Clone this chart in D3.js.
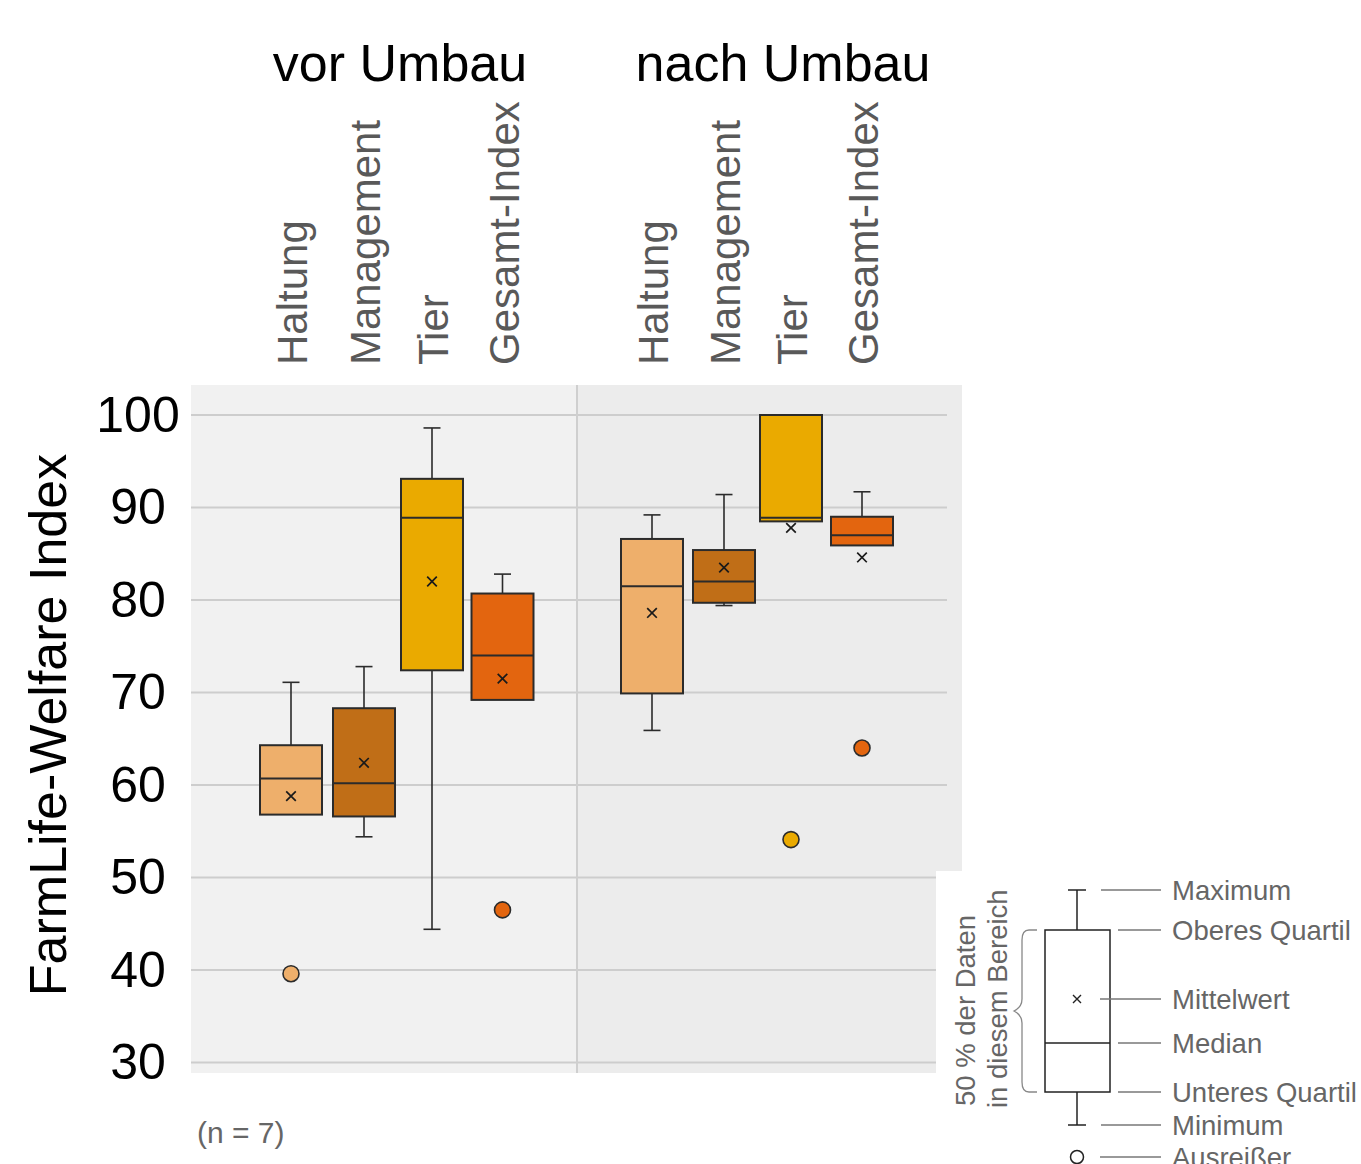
<!DOCTYPE html>
<html><head><meta charset="utf-8">
<script src="https://cdn.jsdelivr.net/npm/d3@7"></script>
<style>
html,body{margin:0;padding:0;background:#fff;}
svg{display:block;font-family:"Liberation Sans",Arial,sans-serif;}
</style></head>
<body><svg id="chart" width="1361" height="1164"></svg>
<script>
// ---------- data ----------
const groups = ["vor Umbau", "nach Umbau"];
const categories = ["Haltung", "Management", "Tier", "Gesamt-Index"];
const colors = ["#EEAF6B", "#C06E17", "#EAAA00", "#E3650F"];
const yTicks = [30, 40, 50, 60, 70, 80, 90, 100];
// per group, per category: [min, q1, median, q3, max, mean]
const vorStats = [
  [56.8, 56.8, 60.7, 64.3, 71.1, 58.8],
  [54.4, 56.6, 60.2, 68.3, 72.8, 62.4],
  [44.4, 72.4, 88.9, 93.1, 98.6, 82.0],
  [69.2, 69.2, 74.0, 80.7, 82.8, 71.5]
];
const nachStats = [
  [65.9, 69.9, 81.5, 86.6, 89.2, 78.6],
  [79.4, 79.7, 82.0, 85.4, 91.4, 83.5],
  [88.5, 88.5, 88.9, 100.0, 100.0, 87.8],
  [85.9, 85.9, 87.0, 89.0, 91.7, 84.6]
];
// outliers: [groupIndex, categoryIndex, value]
const outliers = [
  [0, 0, 39.6],
  [0, 3, 46.5],
  [1, 2, 54.1],
  [1, 3, 64.0]
];
const legendLabels = ["Maximum", "Oberes Quartil", "Mittelwert", "Median", "Unteres Quartil", "Minimum", "Ausreißer"];

// ---------- layout ----------
const svg = d3.select("#chart");
const y = d3.scaleLinear().domain([30, 100]).range([1062.5, 415]);
const xGroup = [
  d3.scaleOrdinal().domain([0, 1, 2, 3]).range([291, 364, 432, 502.5]),
  d3.scaleOrdinal().domain([0, 1, 2, 3]).range([652, 724, 791, 862])
];
const boxW = 62;
const stats = [vorStats, nachStats];

// backgrounds
svg.append("rect").attr("x", 191).attr("y", 385).attr("width", 386).attr("height", 688).attr("fill", "#f1f1f1");
svg.append("rect").attr("x", 577).attr("y", 385).attr("width", 385).attr("height", 688).attr("fill", "#ececec");

// gridlines
svg.append("g").selectAll("line").data(yTicks).join("line")
  .attr("x1", 191).attr("x2", 947)
  .attr("y1", d => y(d)).attr("y2", d => y(d))
  .attr("stroke", "#cdcdcd").attr("stroke-width", 2);
// divider
svg.append("line").attr("x1", 577).attr("x2", 577).attr("y1", 385).attr("y2", 1073)
  .attr("stroke", "#cfcfcf").attr("stroke-width", 2);

// white area under legend
svg.append("rect").attr("x", 936).attr("y", 871).attr("width", 425).attr("height", 293).attr("fill", "#fff");

// y axis (labels centred in their column)
const yAxis = svg.append("g").attr("transform", "translate(191,0)")
  .call(d3.axisLeft(y).tickValues(yTicks).tickSize(0).tickPadding(53));
yAxis.select(".domain").remove();
yAxis.selectAll("text").attr("font-size", 50).attr("fill", "#000").attr("text-anchor", "middle")
  .attr("font-family", "'Liberation Sans',Arial,sans-serif");

// y title
svg.append("text").attr("transform", "translate(66,725) rotate(-90)")
  .attr("text-anchor", "middle").attr("font-size", 52).attr("fill", "#000")
  .text("FarmLife-Welfare Index");

// group titles
const groupTitleX = [400, 783];
svg.append("g").selectAll("text").data(groups).join("text")
  .attr("x", (d, i) => groupTitleX[i]).attr("y", 81)
  .attr("text-anchor", "middle").attr("font-size", 52).attr("fill", "#000")
  .text(d => d);

// category labels
groups.forEach((g, gi) => {
  svg.append("g").selectAll("text").data(categories).join("text")
    .attr("transform", (d, i) => `translate(${xGroup[gi](i) + 16},365) rotate(-90)`)
    .attr("text-anchor", "start").attr("font-size", 42).attr("fill", "#595959")
    .text(d => d);
});

// boxes
const stroke = "#2b2b2b";
groups.forEach((g, gi) => {
  const gEl = svg.append("g");
  stats[gi].forEach((s, ci) => {
    const [mn, q1, med, q3, mx, mean] = s;
    const cx = xGroup[gi](ci);
    const b = gEl.append("g");
    if (mx > q3) {
      b.append("line").attr("x1", cx).attr("x2", cx).attr("y1", y(q3)).attr("y2", y(mx)).attr("stroke", stroke).attr("stroke-width", 1.6);
      b.append("line").attr("x1", cx - 8.5).attr("x2", cx + 8.5).attr("y1", y(mx)).attr("y2", y(mx)).attr("stroke", stroke).attr("stroke-width", 1.6);
    }
    if (mn < q1) {
      b.append("line").attr("x1", cx).attr("x2", cx).attr("y1", y(q1)).attr("y2", y(mn)).attr("stroke", stroke).attr("stroke-width", 1.6);
      b.append("line").attr("x1", cx - 8.5).attr("x2", cx + 8.5).attr("y1", y(mn)).attr("y2", y(mn)).attr("stroke", stroke).attr("stroke-width", 1.6);
    }
    b.append("rect").attr("x", cx - boxW / 2).attr("y", y(q3)).attr("width", boxW).attr("height", y(q1) - y(q3))
      .attr("fill", colors[ci]).attr("stroke", stroke).attr("stroke-width", 2);
    b.append("line").attr("x1", cx - boxW / 2).attr("x2", cx + boxW / 2).attr("y1", y(med)).attr("y2", y(med))
      .attr("stroke", stroke).attr("stroke-width", 2);
    const my = y(mean), r = 4.8;
    b.append("path").attr("d", `M${cx - r},${my - r}L${cx + r},${my + r}M${cx - r},${my + r}L${cx + r},${my - r}`)
      .attr("stroke", "#1a1a1a").attr("stroke-width", 1.7).attr("fill", "none");
  });
});

// outliers
svg.append("g").selectAll("circle").data(outliers).join("circle")
  .attr("cx", d => xGroup[d[0]](d[1])).attr("cy", d => y(d[2])).attr("r", 8)
  .attr("fill", d => colors[d[1]]).attr("stroke", stroke).attr("stroke-width", 1.6);

// n label
svg.append("text").attr("x", 197).attr("y", 1143).attr("font-size", 30).attr("fill", "#666").text("(n = 7)");

// ---------- legend ----------
const L = svg.append("g");
const lcx = 1077;
const ly = { max: 890, q3: 930, mean: 999, med: 1043, q1: 1092, min: 1125, out: 1157 };
const ls = "#222";
L.append("line").attr("x1", lcx).attr("x2", lcx).attr("y1", ly.max).attr("y2", ly.q3).attr("stroke", ls).attr("stroke-width", 1.5);
L.append("line").attr("x1", lcx).attr("x2", lcx).attr("y1", ly.q1).attr("y2", ly.min).attr("stroke", ls).attr("stroke-width", 1.5);
L.append("line").attr("x1", lcx - 9).attr("x2", lcx + 9).attr("y1", ly.max).attr("y2", ly.max).attr("stroke", ls).attr("stroke-width", 1.5);
L.append("line").attr("x1", lcx - 9).attr("x2", lcx + 9).attr("y1", ly.min).attr("y2", ly.min).attr("stroke", ls).attr("stroke-width", 1.5);
L.append("rect").attr("x", 1045).attr("y", ly.q3).attr("width", 65).attr("height", ly.q1 - ly.q3)
  .attr("fill", "#fff").attr("stroke", ls).attr("stroke-width", 1.5);
L.append("line").attr("x1", 1045).attr("x2", 1110).attr("y1", ly.med).attr("y2", ly.med).attr("stroke", ls).attr("stroke-width", 1.5);
L.append("path").attr("d", `M${lcx - 4},${ly.mean - 4}L${lcx + 4},${ly.mean + 4}M${lcx - 4},${ly.mean + 4}L${lcx + 4},${ly.mean - 4}`)
  .attr("stroke", ls).attr("stroke-width", 1.4);
L.append("circle").attr("cx", lcx).attr("cy", ly.out).attr("r", 6.5).attr("fill", "#fff").attr("stroke", ls).attr("stroke-width", 1.5);

const legendYs = [ly.max, ly.q3, ly.mean, ly.med, ly.q1, ly.min, ly.out];
const leaderStart = [1101, 1118, 1100, 1118, 1118, 1101, 1100];
L.append("g").selectAll("line").data(legendYs).join("line")
  .attr("x1", (d, i) => leaderStart[i]).attr("x2", 1161)
  .attr("y1", d => d).attr("y2", d => d).attr("stroke", "#777").attr("stroke-width", 1.3);
L.append("g").selectAll("text").data(legendLabels).join("text")
  .attr("x", 1172).attr("y", (d, i) => legendYs[i] + 10)
  .attr("font-size", 27.5).attr("fill", "#666").text(d => d);

// brace
const bx = 1037, bt = ly.q3, bb = ly.q1, bm = 1011;
L.append("path")
  .attr("d", `M${bx},${bt} L${bx - 8},${bt} Q${bx - 15},${bt} ${bx - 15},${bt + 10} L${bx - 15},${bm - 12} Q${bx - 15},${bm - 4} ${bx - 23},${bm} Q${bx - 15},${bm + 4} ${bx - 15},${bm + 12} L${bx - 15},${bb - 10} Q${bx - 15},${bb} ${bx - 8},${bb} L${bx},${bb}`)
  .attr("fill", "none").attr("stroke", "#888").attr("stroke-width", 1.3);
L.append("text").attr("transform", "translate(975,1106) rotate(-90)").attr("font-size", 27.5).attr("fill", "#666").text("50 % der Daten");
L.append("text").attr("transform", "translate(1007,1108) rotate(-90)").attr("font-size", 27.5).attr("fill", "#666").text("in diesem Bereich");
</script></body></html>
